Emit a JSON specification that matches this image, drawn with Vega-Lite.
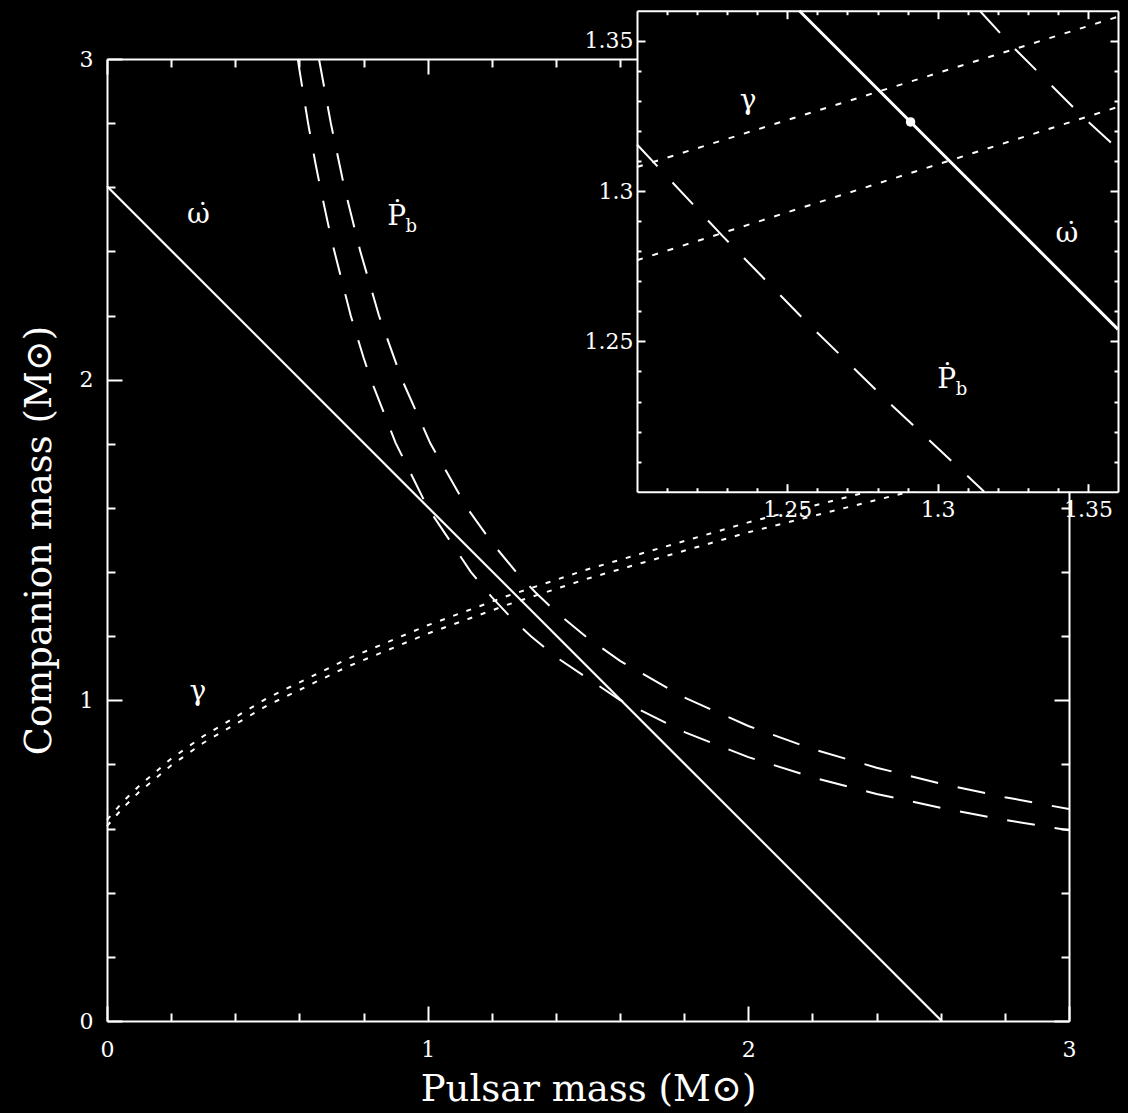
{
  "$schema": "https://vega.github.io/schema/vega-lite/v6.json",
  "background": "black",
  "autosize": {"type": "none"},
  "padding": {"left": 107, "top": 59, "right": 59, "bottom": 92},
  "width": 962,
  "height": 962,
  "config": {
    "view": {"stroke": null},
    "axis": {"grid": false, "domainColor": "white", "tickColor": "white", "labelColor": "white", "titleColor": "white", "domainWidth": 2, "tickWidth": 2, "labelFont": "DejaVu Serif", "labelFontSize": 22, "titleFont": "DejaVu Serif", "titleFontSize": 37, "titleFontWeight": "normal", "labelFlush": false, "labelOverlap": false}
  },
  "datasets": {
    "omegaMain": [{"mp": 0, "mc": 2.603}, {"mp": 2.603, "mc": 0}],
    "gammaMain": [
      {"curve": "lo", "mp": 0, "mc": 0.608}, {"curve": "lo", "mp": 0.05, "mc": 0.665}, {"curve": "lo", "mp": 0.1, "mc": 0.714}, {"curve": "lo", "mp": 0.2, "mc": 0.797}, {"curve": "lo", "mp": 0.3, "mc": 0.867}, {"curve": "lo", "mp": 0.5, "mc": 0.984}, {"curve": "lo", "mp": 0.75, "mc": 1.105}, {"curve": "lo", "mp": 1.0, "mc": 1.208}, {"curve": "lo", "mp": 1.25, "mc": 1.2985}, {"curve": "lo", "mp": 1.5, "mc": 1.38}, {"curve": "lo", "mp": 2.0, "mc": 1.524}, {"curve": "lo", "mp": 2.5, "mc": 1.65}, {"curve": "lo", "mp": 3.0, "mc": 1.762},
      {"curve": "hi", "mp": 0, "mc": 0.627}, {"curve": "hi", "mp": 0.05, "mc": 0.684}, {"curve": "hi", "mp": 0.1, "mc": 0.733}, {"curve": "hi", "mp": 0.2, "mc": 0.818}, {"curve": "hi", "mp": 0.3, "mc": 0.888}, {"curve": "hi", "mp": 0.5, "mc": 1.007}, {"curve": "hi", "mp": 0.75, "mc": 1.129}, {"curve": "hi", "mp": 1.0, "mc": 1.234}, {"curve": "hi", "mp": 1.25, "mc": 1.326}, {"curve": "hi", "mp": 1.5, "mc": 1.409}, {"curve": "hi", "mp": 2.0, "mc": 1.555}, {"curve": "hi", "mp": 2.5, "mc": 1.683}, {"curve": "hi", "mp": 3.0, "mc": 1.797}
    ],
    "pbdotMain": [
      {"curve": "lo", "mp": 0.595, "mc": 3.0}, {"curve": "lo", "mp": 0.6, "mc": 2.967}, {"curve": "lo", "mp": 0.627, "mc": 2.8}, {"curve": "lo", "mp": 0.65, "mc": 2.675}, {"curve": "lo", "mp": 0.665, "mc": 2.6}, {"curve": "lo", "mp": 0.7, "mc": 2.436}, {"curve": "lo", "mp": 0.76, "mc": 2.2}, {"curve": "lo", "mp": 0.8, "mc": 2.069}, {"curve": "lo", "mp": 0.823, "mc": 2.0}, {"curve": "lo", "mp": 0.9, "mc": 1.803}, {"curve": "lo", "mp": 1.0, "mc": 1.601}, {"curve": "lo", "mp": 1.135, "mc": 1.4}, {"curve": "lo", "mp": 1.2, "mc": 1.322}, {"curve": "lo", "mp": 1.259, "mc": 1.259}, {"curve": "lo", "mp": 1.322, "mc": 1.2}, {"curve": "lo", "mp": 1.4, "mc": 1.135}, {"curve": "lo", "mp": 1.6, "mc": 1.001}, {"curve": "lo", "mp": 1.803, "mc": 0.9}, {"curve": "lo", "mp": 2.0, "mc": 0.823}, {"curve": "lo", "mp": 2.2, "mc": 0.76}, {"curve": "lo", "mp": 2.4, "mc": 0.708}, {"curve": "lo", "mp": 2.6, "mc": 0.665}, {"curve": "lo", "mp": 2.8, "mc": 0.627}, {"curve": "lo", "mp": 3.0, "mc": 0.595},
      {"curve": "hi", "mp": 0.661, "mc": 3.0}, {"curve": "hi", "mp": 0.698, "mc": 2.8}, {"curve": "hi", "mp": 0.74, "mc": 2.6}, {"curve": "hi", "mp": 0.79, "mc": 2.4}, {"curve": "hi", "mp": 0.848, "mc": 2.2}, {"curve": "hi", "mp": 0.92, "mc": 2.0}, {"curve": "hi", "mp": 1.009, "mc": 1.8}, {"curve": "hi", "mp": 1.123, "mc": 1.6}, {"curve": "hi", "mp": 1.2, "mc": 1.492}, {"curve": "hi", "mp": 1.276, "mc": 1.4}, {"curve": "hi", "mp": 1.3365, "mc": 1.3365}, {"curve": "hi", "mp": 1.4, "mc": 1.276}, {"curve": "hi", "mp": 1.492, "mc": 1.2}, {"curve": "hi", "mp": 1.6, "mc": 1.123}, {"curve": "hi", "mp": 1.8, "mc": 1.009}, {"curve": "hi", "mp": 2.0, "mc": 0.92}, {"curve": "hi", "mp": 2.2, "mc": 0.848}, {"curve": "hi", "mp": 2.4, "mc": 0.79}, {"curve": "hi", "mp": 2.6, "mc": 0.74}, {"curve": "hi", "mp": 2.8, "mc": 0.698}, {"curve": "hi", "mp": 3.0, "mc": 0.661}
    ],
    "labelsMain": [{"mp": 0.285, "mc": 2.513, "label": "\u03c9\u0307"}, {"mp": 0.903, "mc": 2.508, "label": "\u1e56"}, {"mp": 0.283, "mc": 1.025, "label": "\u03b3"}],
    "subMain": [{"mp": 0.903, "mc": 2.508, "label": "b"}],
    "box": [{"x0": 1.2, "x1": 1.36, "y0": 1.2, "y1": 1.36}],
    "gammaInset": [
      {"curve": "lo", "mp": 1.2, "mc": 1.277}, {"curve": "lo", "mp": 1.28, "mc": 1.3025}, {"curve": "lo", "mp": 1.36, "mc": 1.328},
      {"curve": "hi", "mp": 1.2, "mc": 1.308}, {"curve": "hi", "mp": 1.28, "mc": 1.333}, {"curve": "hi", "mp": 1.36, "mc": 1.358}
    ],
    "pbdotInset": [
      {"curve": "lo", "mp": 1.2, "mc": 1.3155}, {"curve": "lo", "mp": 1.2285, "mc": 1.285}, {"curve": "lo", "mp": 1.2564, "mc": 1.2564}, {"curve": "lo", "mp": 1.285, "mc": 1.2285}, {"curve": "lo", "mp": 1.3155, "mc": 1.2},
      {"curve": "hi", "mp": 1.314, "mc": 1.36}, {"curve": "hi", "mp": 1.325, "mc": 1.348}, {"curve": "hi", "mp": 1.3365, "mc": 1.3365}, {"curve": "hi", "mp": 1.348, "mc": 1.325}, {"curve": "hi", "mp": 1.36, "mc": 1.314}
    ],
    "omegaInset": [{"mp": 1.254, "mc": 1.36}, {"mp": 1.36, "mc": 1.254}],
    "solution": [{"mp": 1.291, "mc": 1.323}],
    "labelsInset": [{"mp": 1.237, "mc": 1.33, "label": "\u03b3"}, {"mp": 1.343, "mc": 1.2856, "label": "\u03c9\u0307"}, {"mp": 1.303, "mc": 1.237, "label": "\u1e56"}],
    "subInset": [{"mp": 1.303, "mc": 1.237, "label": "b"}]
  },
  "resolve": {"scale": {"x": "independent", "y": "independent"}, "axis": {"x": "independent", "y": "independent"}},
  "layer": [
    {
      "resolve": {"axis": {"x": "independent", "y": "independent"}},
      "layer": [
        {
          "data": {"name": "omegaMain"},
          "mark": {"type": "line", "color": "white", "strokeWidth": 2.2},
          "encoding": {
            "x": {"field": "mp", "type": "quantitative", "scale": {"domain": [0, 3], "nice": false, "zero": false}, "axis": {"orient": "bottom", "values": [0, 1, 2, 3], "tickSize": -15, "labelPadding": 33, "title": "Pulsar mass (M\u2299)", "titlePadding": 11}},
            "y": {"field": "mc", "type": "quantitative", "scale": {"domain": [0, 3], "nice": false, "zero": false}, "axis": {"orient": "left", "values": [0, 1, 2, 3], "tickSize": -15, "labelPadding": 29, "title": "Companion mass (M\u2299)", "titlePadding": 21}}
          }
        },
        {
          "data": {"name": "gammaMain"},
          "mark": {"type": "line", "color": "white", "strokeWidth": 2, "strokeDash": [5, 9]},
          "encoding": {
            "x": {"field": "mp", "type": "quantitative", "scale": {"domain": [0, 3], "nice": false, "zero": false}, "axis": {"orient": "bottom", "values": [0.2, 0.4, 0.6, 0.8, 1.2, 1.4, 1.6, 1.8, 2.2, 2.4, 2.6, 2.8], "tickSize": -8, "labels": false, "domain": false, "title": null}},
            "y": {"field": "mc", "type": "quantitative", "scale": {"domain": [0, 3], "nice": false, "zero": false}, "axis": {"orient": "left", "values": [0.2, 0.4, 0.6, 0.8, 1.2, 1.4, 1.6, 1.8, 2.2, 2.4, 2.6, 2.8], "tickSize": -8, "labels": false, "domain": false, "title": null}},
            "detail": {"field": "curve"}
          }
        },
        {
          "data": {"name": "pbdotMain"},
          "mark": {"type": "line", "color": "white", "strokeWidth": 2, "strokeDash": [28, 20]},
          "encoding": {
            "x": {"field": "mp", "type": "quantitative", "scale": {"domain": [0, 3], "nice": false, "zero": false}, "axis": {"orient": "top", "values": [0, 1, 2, 3], "tickSize": -15, "labels": false, "title": null}},
            "y": {"field": "mc", "type": "quantitative", "scale": {"domain": [0, 3], "nice": false, "zero": false}, "axis": {"orient": "right", "values": [0, 1, 2, 3], "tickSize": -15, "labels": false, "title": null}},
            "detail": {"field": "curve"}
          }
        },
        {
          "data": {"name": "labelsMain"},
          "mark": {"type": "text", "color": "white", "font": "DejaVu Serif", "fontSize": 28, "align": "center", "baseline": "middle"},
          "encoding": {
            "x": {"field": "mp", "type": "quantitative", "scale": {"domain": [0, 3], "nice": false, "zero": false}, "axis": {"orient": "top", "values": [0.2, 0.4, 0.6, 0.8, 1.2, 1.4, 1.6, 1.8, 2.2, 2.4, 2.6, 2.8], "tickSize": -8, "labels": false, "domain": false, "title": null}},
            "y": {"field": "mc", "type": "quantitative", "scale": {"domain": [0, 3], "nice": false, "zero": false}, "axis": {"orient": "right", "values": [0.2, 0.4, 0.6, 0.8, 1.2, 1.4, 1.6, 1.8, 2.2, 2.4, 2.6, 2.8], "tickSize": -8, "labels": false, "domain": false, "title": null}},
            "text": {"field": "label"}
          }
        },
        {
          "data": {"name": "subMain"},
          "mark": {"type": "text", "color": "white", "font": "DejaVu Serif", "fontSize": 18, "align": "left", "baseline": "middle", "dx": 9, "dy": 10},
          "encoding": {
            "x": {"field": "mp", "type": "quantitative", "scale": {"domain": [0, 3], "nice": false, "zero": false}, "axis": null},
            "y": {"field": "mc", "type": "quantitative", "scale": {"domain": [0, 3], "nice": false, "zero": false}, "axis": null},
            "text": {"field": "label"}
          }
        }
      ]
    },
    {
      "resolve": {"axis": {"x": "independent", "y": "independent"}},
      "layer": [
        {
          "data": {"name": "box"},
          "mark": {"type": "rect", "color": "black"},
          "encoding": {
            "x": {"field": "x0", "type": "quantitative", "scale": {"domain": [1.2, 1.36], "range": [530, 1011], "nice": false, "zero": false}, "axis": {"orient": "bottom", "offset": -529.3, "values": [1.25, 1.3, 1.35], "format": ".2~f", "tickSize": -8, "labelPadding": 16, "title": null, "zindex": 1}},
            "x2": {"field": "x1"},
            "y": {"field": "y0", "type": "quantitative", "scale": {"domain": [1.2, 1.36], "range": [432.7, -48.3], "nice": false, "zero": false}, "axis": {"orient": "left", "offset": -530, "values": [1.25, 1.3, 1.35], "format": ".2~f", "tickSize": -8, "labelPadding": 12, "title": null, "zindex": 1}},
            "y2": {"field": "y1"}
          }
        },
        {
          "data": {"name": "gammaInset"},
          "mark": {"type": "line", "color": "white", "strokeWidth": 2, "strokeDash": [6, 10]},
          "encoding": {
            "x": {"field": "mp", "type": "quantitative", "scale": {"domain": [1.2, 1.36], "range": [530, 1011], "nice": false, "zero": false}, "axis": {"orient": "bottom", "offset": -529.3, "values": [1.21, 1.22, 1.23, 1.24, 1.26, 1.27, 1.28, 1.29, 1.31, 1.32, 1.33, 1.34], "tickSize": -4, "labels": false, "domain": false, "title": null, "zindex": 1}},
            "y": {"field": "mc", "type": "quantitative", "scale": {"domain": [1.2, 1.36], "range": [432.7, -48.3], "nice": false, "zero": false}, "axis": {"orient": "left", "offset": -530, "values": [1.21, 1.22, 1.23, 1.24, 1.26, 1.27, 1.28, 1.29, 1.31, 1.32, 1.33, 1.34], "tickSize": -4, "labels": false, "domain": false, "title": null, "zindex": 1}},
            "detail": {"field": "curve"}
          }
        },
        {
          "data": {"name": "pbdotInset"},
          "mark": {"type": "line", "color": "white", "strokeWidth": 2, "strokeDash": [30, 22]},
          "encoding": {
            "x": {"field": "mp", "type": "quantitative", "scale": {"domain": [1.2, 1.36], "range": [530, 1011], "nice": false, "zero": false}, "axis": {"orient": "top", "offset": 48.3, "values": [1.25, 1.3, 1.35], "tickSize": -8, "labels": false, "title": null, "zindex": 1}},
            "y": {"field": "mc", "type": "quantitative", "scale": {"domain": [1.2, 1.36], "range": [432.7, -48.3], "nice": false, "zero": false}, "axis": {"orient": "right", "offset": 49, "values": [1.25, 1.3, 1.35], "tickSize": -8, "labels": false, "title": null, "zindex": 1}},
            "detail": {"field": "curve"}
          }
        },
        {
          "data": {"name": "omegaInset"},
          "mark": {"type": "line", "color": "white", "strokeWidth": 3},
          "encoding": {
            "x": {"field": "mp", "type": "quantitative", "scale": {"domain": [1.2, 1.36], "range": [530, 1011], "nice": false, "zero": false}, "axis": {"orient": "top", "offset": 48.3, "values": [1.21, 1.22, 1.23, 1.24, 1.26, 1.27, 1.28, 1.29, 1.31, 1.32, 1.33, 1.34], "tickSize": -4, "labels": false, "domain": false, "title": null, "zindex": 1}},
            "y": {"field": "mc", "type": "quantitative", "scale": {"domain": [1.2, 1.36], "range": [432.7, -48.3], "nice": false, "zero": false}, "axis": {"orient": "right", "offset": 49, "values": [1.21, 1.22, 1.23, 1.24, 1.26, 1.27, 1.28, 1.29, 1.31, 1.32, 1.33, 1.34], "tickSize": -4, "labels": false, "domain": false, "title": null, "zindex": 1}}
          }
        },
        {
          "data": {"name": "solution"},
          "mark": {"type": "point", "filled": true, "color": "white", "size": 90, "opacity": 1},
          "encoding": {
            "x": {"field": "mp", "type": "quantitative", "scale": {"domain": [1.2, 1.36], "range": [530, 1011], "nice": false, "zero": false}, "axis": null},
            "y": {"field": "mc", "type": "quantitative", "scale": {"domain": [1.2, 1.36], "range": [432.7, -48.3], "nice": false, "zero": false}, "axis": null}
          }
        },
        {
          "data": {"name": "labelsInset"},
          "mark": {"type": "text", "color": "white", "font": "DejaVu Serif", "fontSize": 28, "align": "center", "baseline": "middle"},
          "encoding": {
            "x": {"field": "mp", "type": "quantitative", "scale": {"domain": [1.2, 1.36], "range": [530, 1011], "nice": false, "zero": false}, "axis": null},
            "y": {"field": "mc", "type": "quantitative", "scale": {"domain": [1.2, 1.36], "range": [432.7, -48.3], "nice": false, "zero": false}, "axis": null},
            "text": {"field": "label"}
          }
        },
        {
          "data": {"name": "subInset"},
          "mark": {"type": "text", "color": "white", "font": "DejaVu Serif", "fontSize": 18, "align": "left", "baseline": "middle", "dx": 9, "dy": 10},
          "encoding": {
            "x": {"field": "mp", "type": "quantitative", "scale": {"domain": [1.2, 1.36], "range": [530, 1011], "nice": false, "zero": false}, "axis": null},
            "y": {"field": "mc", "type": "quantitative", "scale": {"domain": [1.2, 1.36], "range": [432.7, -48.3], "nice": false, "zero": false}, "axis": null},
            "text": {"field": "label"}
          }
        }
      ]
    }
  ]
}
